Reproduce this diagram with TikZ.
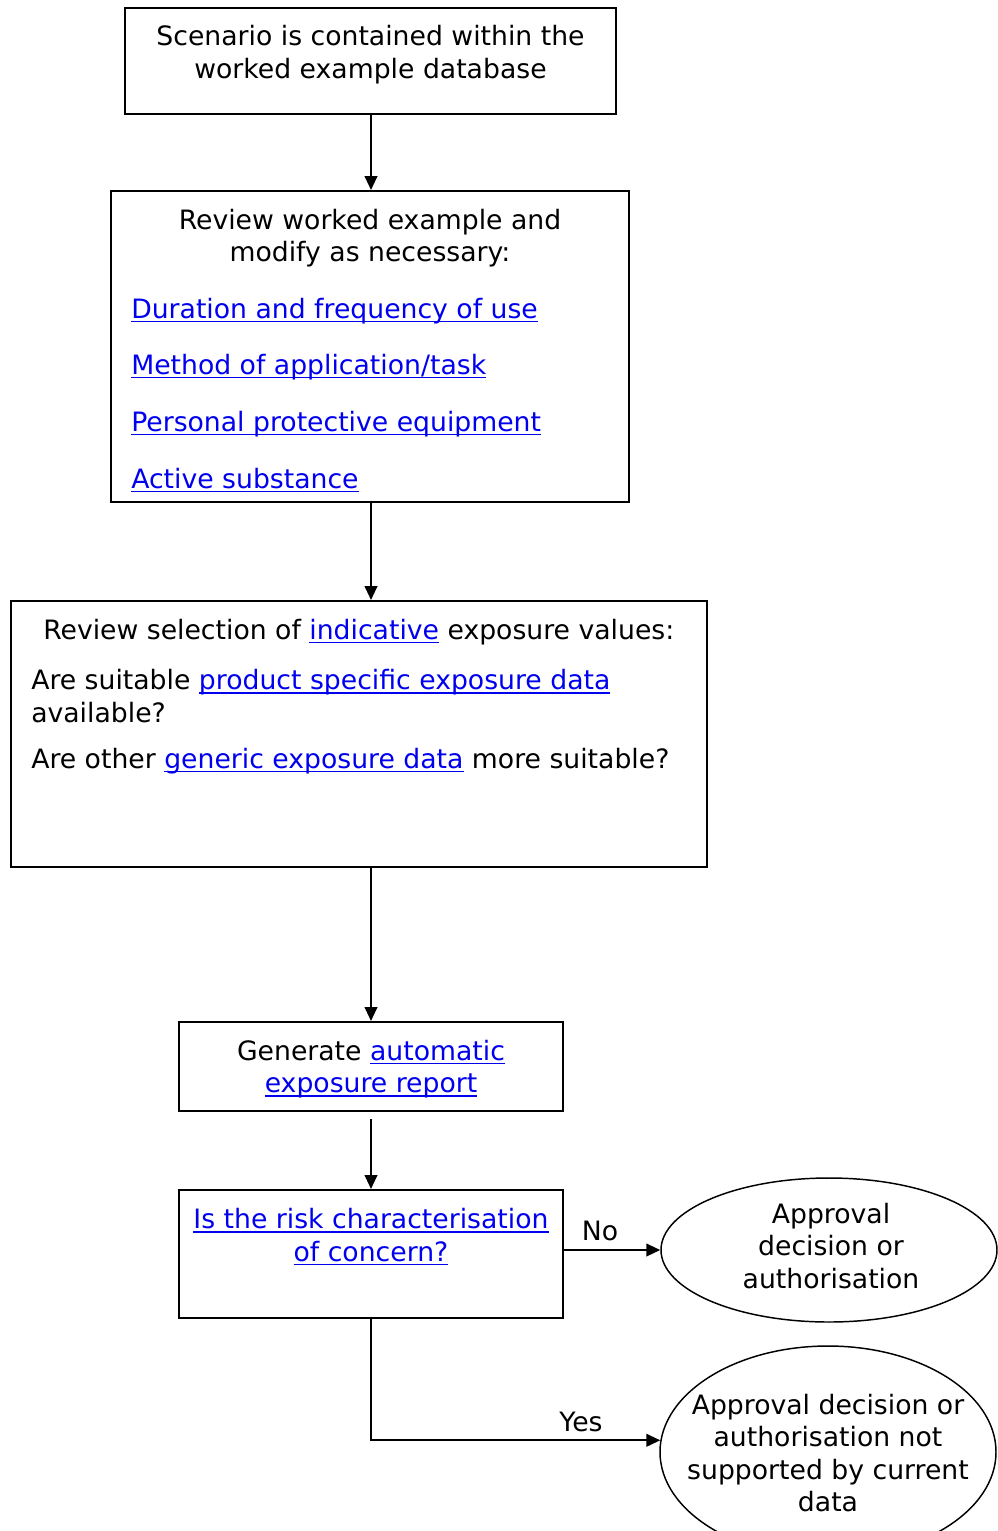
\documentclass[tikz,border=0pt]{standalone}
\usepackage{fontspec}
\setmainfont{DejaVu Sans}
\usetikzlibrary{shapes.geometric,arrows.meta}
\definecolor{linkblue}{RGB}{0,0,238}
\newcommand{\lnk}[1]{{\color{linkblue}\setbox0\hbox{#1}\rlap{\rule[-3pt]{\wd0}{1.1pt}}\box0}}
\tikzset{
  x=0.75pt,y=-0.75pt,
  every node/.style={font=\fontsize{20}{24.4}\selectfont},
  boxn/.style={draw,line width=1.5pt,rectangle,inner sep=0pt},
  txt/.style={inner sep=0pt},
  ell/.style={draw,line width=1.1pt,ellipse,inner sep=0pt,minimum width=252pt},
  arr/.style={line width=1.5pt,-{Triangle[length=10.5pt,width=9.5pt]}},
}
\begin{document}
\begin{tikzpicture}
\useasboundingbox (0,0) rectangle (997,1531);
% boxes
\node[boxn,minimum width=368.25pt,minimum height=79.5pt] (b1) at (370.5,61) {};
\node[boxn,minimum width=388.5pt,minimum height=233.25pt] (b2) at (370,346.5) {};
\node[boxn,minimum width=522pt,minimum height=199.5pt] (b3) at (359,734) {};
\node[boxn,minimum width=288pt,minimum height=66.75pt] (b4) at (371,1066.5) {};
\node[boxn,minimum width=288pt,minimum height=96pt] (b5) at (371,1254) {};
\node[ell,minimum height=108pt] (e1) at (829,1250) {};
\node[ell,minimum height=159pt] (e2) at (828,1452) {};
% texts
\node[txt,align=center] (t1) at (370.5,54.5) {Scenario is contained within the\\worked example database};
\node[txt,align=center] (t2) at (370,238) {Review worked example and\\modify as necessary:};
\node[txt,anchor=west] (l1) at (131,311) {\lnk{Duration and frequency of use}};
\node[txt,anchor=west] (l2) at (131,367) {\lnk{Method of application/task}};
\node[txt,anchor=west] (l3) at (131,424) {\lnk{Personal protective equipment}};
\node[txt,anchor=west] (l4) at (131,480) {\lnk{Active substance}};
\node[txt,anchor=west] (t3) at (43,632) {Review selection of \lnk{indicative} exposure values:};
\node[txt,anchor=west,align=left] (t4) at (31,696) {Are suitable \lnk{product specific exposure data}\\available?};
\node[txt,anchor=west] (t5) at (31,761) {Are other \lnk{generic exposure data} more suitable?};
\node[txt,align=center] (t6) at (371,1069) {Generate \lnk{automatic}\\\lnk{exposure report}};
\node[txt,align=center] (t7) at (371,1237) {\lnk{Is the risk characterisation}\\\lnk{of concern?}};
\node[txt,align=center] (t8) at (831,1246) {Approval\\decision or\\authorisation};
\node[txt,align=center] (t9) at (828,1453) {Approval decision or\\authorisation not\\supported by current\\data};
\node[txt] (no) at (600,1231) {No};
\node[txt] (yes) at (581,1422) {Yes};
% connectors
\draw[arr] (b1.south -| b4.north) -- (b2.north -| b4.north);
\draw[arr] (b2.south -| b4.north) -- (b3.north -| b4.north);
\draw[arr] (b4.north |- b3.south) -- (b4.north);
\draw[arr,shorten <=5.25pt] (b4.south) -- (b5.north);
\draw[arr] (b5.east |- e1.west) -- (e1.west);
\draw[arr] (b5.south) |- (e2.176);
\end{tikzpicture}
\end{document}
